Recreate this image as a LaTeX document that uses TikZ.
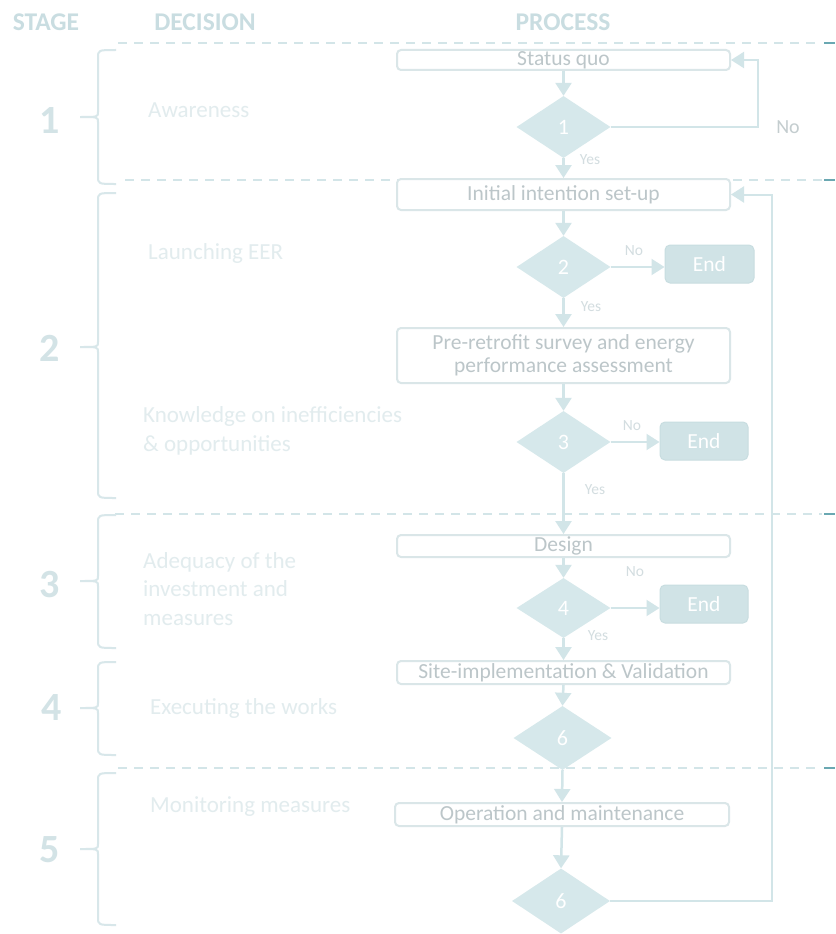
\documentclass[tikz,border=0pt]{standalone}
\usepackage{fontspec}
\setmainfont{Carlito}
\usetikzlibrary{shapes.geometric,arrows.meta}
\definecolor{hdr}{HTML}{C9DDE1}
\definecolor{stnum}{HTML}{D3E3E6}
\definecolor{brc}{HTML}{D8E7EA}
\definecolor{dsh}{HTML}{D3E5E8}
\definecolor{dectxt}{HTML}{E2ECEE}
\definecolor{boxln}{HTML}{DAE6E8}
\definecolor{boxtxt}{HTML}{BCC6C9}
\definecolor{arr}{HTML}{D2E5E8}
\definecolor{dia}{HTML}{D6E8EB}
\definecolor{endf}{HTML}{D0E3E6}
\definecolor{endl}{HTML}{C8DDE0}
\definecolor{yn}{HTML}{D3DDE0}
\definecolor{nobig}{HTML}{C4CDCF}
\definecolor{teal}{HTML}{6AA8B2}
\begin{document}
\begin{tikzpicture}[x=1pt,y=-1pt,
  hdrtxt/.style={text=hdr,font=\bfseries\fontsize{25.5}{27}\selectfont,inner sep=0pt},
  stagenum/.style={text=stnum,font=\bfseries\fontsize{40}{42}\selectfont,inner sep=0pt},
  dectext/.style={text=dectxt,font=\fontsize{23}{28.5}\selectfont,inner sep=0pt,anchor=west,align=left},
  procbox/.style={draw=boxln,line width=2pt,fill=white,rounded corners=4pt,text=boxtxt,
    font=\fontsize{21.5}{23}\selectfont,inner sep=0pt,minimum width=333pt,align=center},
  decbox/.style={diamond,fill=dia,draw=none,text=white,font=\fontsize{22}{24}\selectfont,
    inner sep=0pt,minimum width=94pt,minimum height=62pt},
  endbox/.style={fill=endf,draw=endl,line width=1pt,rounded corners=5pt,text=white,
    font=\fontsize{21.5}{24}\selectfont,inner sep=0pt,minimum width=89pt,minimum height=38pt},
  flow/.style={draw=arr,line width=2.5pt,-{Triangle[width=16pt,length=13pt]}},
  loopline/.style={draw=arr,line width=2pt,-{Triangle[width=16pt,length=13pt]}},
  smalllbl/.style={text=yn,font=\fontsize{15.5}{17}\selectfont,inner sep=0pt},
  sepline/.style={draw=dsh,line width=1.6pt,dash pattern=on 9pt off 7pt},
  tealend/.style={draw=teal,line width=2pt},
  bracestyle/.style={draw=brc,line width=2pt}
]
\useasboundingbox (0,0) rectangle (835,934);
\fill[white] (0,0) rectangle (835,934);

% headers
\node[hdrtxt] (hstage) at (46,22) {STAGE};
\node[hdrtxt] (hdec) at (205,22) {DECISION};
\node[hdrtxt] (hproc) at (563,22) {PROCESS};

% separator lines
\foreach \yy/\xs in {43/118,180/125,514/115,768/118}{
  \draw[sepline] (\xs,\yy) -- (822,\yy);
  \draw[tealend] (824,\yy) -- (835,\yy);
}

% braces
\newcommand\stgbrace[3]{%
  \draw[bracestyle] (116,#1) .. controls (98,#1) .. (98,{#1+8}) -- (98,{#2-5})
    .. controls (98,#2) .. (80,#2) .. controls (98,#2) .. (98,{#2+5})
    -- (98,{#3-8}) .. controls (98,#3) .. (116,#3);}
\stgbrace{50}{117}{184}
\stgbrace{193}{347}{498}
\stgbrace{515}{581}{648}
\stgbrace{662}{708}{755}
\stgbrace{773}{849}{925}

% stage numbers
\node[stagenum] (s1) at (50,121) {1};
\node[stagenum] (s2) at (50,348) {2};
\node[stagenum] (s3) at (50,585) {3};
\node[stagenum] (s4) at (52,708) {4};
\node[stagenum] (s5) at (50,850) {5};

% decision texts
\node[dectext] (t1) at (148,110) {Awareness};
\node[dectext] (t2) at (148,253) {Launching EER};
\node[dectext] (t3) at (143,431) {Knowledge on inefficiencies\\\& opportunities};
\node[dectext] (t4) at (143,589) {Adequacy of the\\investment and\\measures};
\node[dectext] (t5) at (150,708) {Executing the works};
\node[dectext] (t6) at (150,807) {Monitoring measures};

% process nodes
\node[procbox,minimum height=20pt] (sq) at (563.5,60) {Status quo};
\node[decbox] (d1) at (563.5,127) {1};
\node[procbox,minimum height=31pt] (init) at (563.5,194.5) {Initial intention set-up};
\node[decbox] (d2) at (563.5,267) {2};
\node[endbox] (e2) at (709.5,264) {End};
\node[procbox,minimum height=55pt] (pre) at (563.5,355.5) {Pre-retrofit survey and energy\\performance assessment};
\node[decbox] (d3) at (563.5,442) {3};
\node[endbox,minimum width=88pt] (e3) at (704,441) {End};
\node[procbox,minimum height=22pt] (des) at (563.5,546) {Design};
\node[decbox,minimum height=60pt] (d4) at (563.5,608) {4};
\node[endbox,minimum width=88pt] (e4) at (704,604) {End};
\node[procbox,minimum height=23pt] (site) at (563.5,672.5) {Site-implementation \& Validation};
\node[decbox,minimum width=98pt,minimum height=64pt] (d6a) at (562.5,738) {6};
\node[procbox,minimum height=23pt,minimum width=334pt] (op) at (562,814.5) {Operation and maintenance};
\node[decbox,minimum width=98pt,minimum height=65pt] (d6b) at (561,901) {6};

% flow arrows
\draw[flow] (sq.south) -- (d1.north);
\draw[flow] (d1.south) -- (init.north);
\draw[flow] (init.south) -- (d2.north);
\draw[flow] (d2.south) -- (pre.north);
\draw[flow] (pre.south) -- (d3.north);
\draw[flow] (d3.south) -- (des.north);
\draw[flow] (des.south) -- (d4.north);
\draw[flow] (d4.south) -- (site.north);
\draw[flow] (site.south) -- (d6a.north);
\draw[flow] (d6a.south) -- (op.north);
\draw[flow] (op.south) -- (d6b.north);
\draw[loopline] (d2.east) -- (e2.west |- d2.east);
\draw[loopline] (d3.east) -- (e3.west |- d3.east);
\draw[loopline] (d4.east) -- (e4.west |- d4.east);

% loops
\coordinate (l1) at (758,60);
\draw[loopline] (d1.east) -| (l1) -- (sq.east);
\coordinate (l2) at (772,194.5);
\draw[loopline] (d6b.east) -| (l2) -- (init.east);

% labels
\node[text=nobig,font=\fontsize{20}{22}\selectfont,inner sep=0pt] (no1) at (788,127) {No};
\node[smalllbl] (y1) at (590,160) {Yes};
\node[smalllbl] (n2) at (634,251) {No};
\node[smalllbl] (y2) at (591,307) {Yes};
\node[smalllbl] (n3) at (632,426) {No};
\node[smalllbl] (y3) at (595,490) {Yes};
\node[smalllbl] (n4) at (635,572) {No};
\node[smalllbl] (y4) at (598,636) {Yes};
\end{tikzpicture}
\end{document}
